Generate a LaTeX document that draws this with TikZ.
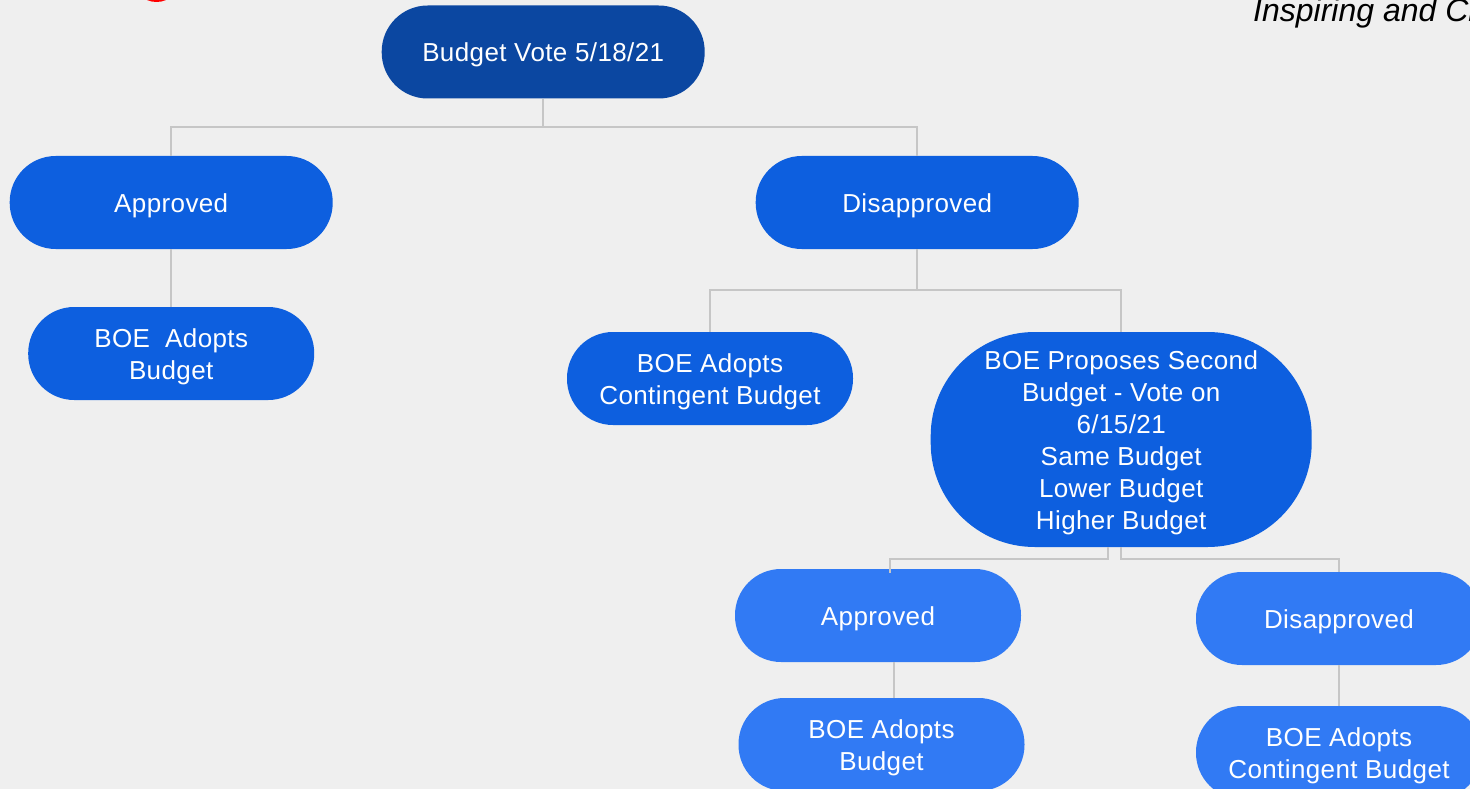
\documentclass[tikz,border=0pt]{standalone}
\usepackage{fontspec}
\setmainfont{Liberation Sans}
\newfontfamily\boxfont[LetterSpace=1.5]{Liberation Sans}
\newcommand{\topstrut}{\rule{0pt}{25pt}}
\definecolor{bgc}{HTML}{EFEFEF}
\definecolor{darkb}{HTML}{0B47A1}
\definecolor{midb}{HTML}{0D5FDF}
\definecolor{lightb}{HTML}{317AF4}
\definecolor{linec}{HTML}{C6C6C6}
\tikzset{
  x=1pt,y=-1pt,
  boxtext/.style={inner sep=0pt,align=center,text=white,font=\boxfont\fontsize{26}{32}\selectfont},
  box/.style={boxtext,rounded corners=46pt,minimum width=#1,minimum height=93pt},
  big/.style={box=323pt},
  small/.style={box=286pt},
  conn/.style={draw=linec,line width=2pt},
}
\begin{document}
\begin{tikzpicture}
\path[use as bounding box] (0,0) rectangle (1470,789);
\begin{scope}
\clip (0,0) rectangle (1470,789);
\fill[bgc] (0,0) rectangle (1470,789);
\fill[red] (156.5,-21.5) circle (23.5);
\node[anchor=base west,inner sep=0pt,font=\fontsize{32}{34}\selectfont\itshape] (tagline) at (1253,22) {Inspiring and Cl};

\coordinate (c1) at (1108,547);
\coordinate (c2) at (1121,547);
\coordinate (c3) at (890,573);
\coordinate (c4) at (894,662);
\coordinate (c5) at (894,698);

\node[big,fill=darkb] (root) at (543.2,52) {\topstrut Budget Vote 5/18/21};
\node[big,fill=midb] (appr) at (171.2,202.5) {\topstrut Approved};
\node[big,fill=midb] (disa) at (917.2,202.5) {\topstrut Disapproved};
\node[small,fill=midb] (boe) at (171.2,353.5) {\topstrut BOE\ \ Adopts\\Budget};
\node[small,fill=midb] (cont) at (710,378.5) {\topstrut BOE Adopts\\Contingent Budget};
\node[boxtext,rounded corners=104pt,minimum width=381pt,minimum height=215pt,fill=midb] (second) at (1121.2,439.5) {\topstrut BOE Proposes Second\\Budget - Vote on\\6/15/21\\Same Budget\\Lower Budget\\Higher Budget};
\node[small,fill=lightb] (appr2) at (878,615.5) {\topstrut Approved};
\node[small,fill=lightb] (disa2) at (1339,618.5) {\topstrut Disapproved};
\node[small,fill=lightb] (boe2) at (881.5,744.5) {\topstrut BOE Adopts\\Budget};
\node[small,fill=lightb] (cont2) at (1339,752.5) {\topstrut BOE Adopts\\Contingent Budget};

\draw[conn] (root.south) -- (543.2,127) -| (appr.north);
\draw[conn] (root.south) -- (543.2,127) -| (disa.north);
\draw[conn] (appr.south) -- (boe.north);
\draw[conn] (disa.south) -- (917.2,290) -| (cont.north);
\draw[conn] (disa.south) -- (917.2,290) -| (second.north);
\draw[conn] (c1) -- (1108,559) -| (c3);
\draw[conn] (c2) -- (1121,559) -| (disa2.north);
\draw[conn] (c4) -- (c5);
\draw[conn] (disa2.south) -- (cont2.north);
\end{scope}
\end{tikzpicture}
\end{document}
